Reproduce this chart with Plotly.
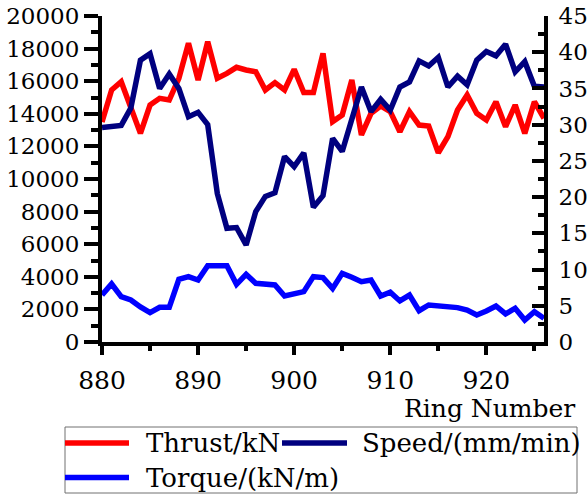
import plotly.graph_objects as go

rings = list(range(880, 927))

thrust = [13500, 15460, 15970, 14400, 12800, 14540, 14950, 14850, 16180, 18330,
          16070, 18420, 16180, 16480, 16850, 16690, 16580, 15460, 15910, 15460,
          16730, 15300, 15300, 17710, 13520, 13930, 16070, 12700, 14030, 14480,
          14130, 12900, 14130, 13310, 13250, 11610, 12600, 14230, 15150, 14030,
          13620, 14740, 13210, 14540, 12800, 14740, 13720]

speed = [29.6, 29.7, 29.9, 32.3, 38.9, 39.8, 35.0, 37.0, 35.0, 31.1,
         31.7, 30.0, 20.5, 15.7, 15.8, 13.4, 18.0, 20.1, 20.6, 25.6,
         24.2, 26.1, 18.6, 20.2, 28.1, 26.3, 30.9, 35.2, 31.8, 33.5,
         32.0, 35.2, 35.9, 38.8, 38.1, 39.3, 35.2, 36.7, 35.5, 38.9,
         40.1, 39.5, 41.1, 37.3, 38.7, 35.3, 35.2]

torque = [2880, 3560, 2780, 2580, 2150, 1800, 2130, 2130, 3850, 4010,
          3800, 4680, 4680, 4680, 3540, 4150, 3600, 3540, 3500, 2820,
          2940, 3090, 4010, 3950, 3290, 4210, 3970, 3700, 3800, 2820,
          3050, 2520, 2880, 1920, 2270, 2230, 2170, 2110, 1960, 1660,
          1900, 2210, 1720, 2070, 1350, 1860, 1450]

names = ["Thrust/kN", "Speed/(mm/min)", "Torque/(kN/m)"]
colors = ["#FF0000", "#00007F", "#0000FF"]
x_ticks = [880, 890, 900, 910, 920]
left_ticks = list(range(0, 20001, 2000))
right_ticks = list(range(0, 46, 5))

FONT = "DejaVu Serif"
LW = 5.5

# plot-area geometry (pixels) used to place the hand-made legend
L, R, T, B = 102, 544, 16, 342
def px(xp):
    return (xp - L) / (R - L)
def py(yp):
    return (B - yp) / (B - T)

fig = go.Figure()
fig.add_trace(go.Scatter(x=rings, y=thrust, name=names[0], mode="lines",
                         line=dict(color=colors[0], width=LW), showlegend=False))
fig.add_trace(go.Scatter(x=rings, y=torque, name=names[2], mode="lines",
                         line=dict(color=colors[2], width=LW), showlegend=False))
fig.add_trace(go.Scatter(x=rings, y=speed, name=names[1], mode="lines", yaxis="y2",
                         line=dict(color=colors[1], width=LW), showlegend=False))

axis_common = dict(showgrid=False, zeroline=False, showline=True, linecolor="black",
                   linewidth=4, tickcolor="black", tickwidth=3.5, tickformat="d",
                   tickfont=dict(family=FONT, size=23, color="black"))

# legend: box, samples, labels
shapes = [dict(type="rect", xref="paper", yref="paper",
               x0=px(65), x1=px(577), y0=py(427), y1=py(493),
               line=dict(color="#707070", width=1), fillcolor="white", layer="above")]
legend_items = [(65, 129, 443, 144), (282, 347, 443, 360), (65, 129, 477.5, 144)]
annotations = []
for (x0, x1, yy, tx), nm, c in zip(legend_items, names, colors):
    shapes.append(dict(type="line", xref="paper", yref="paper",
                       x0=px(x0), x1=px(x1), y0=py(yy), y1=py(yy),
                       line=dict(color=c, width=LW), layer="above"))
    annotations.append(dict(text=nm, xref="paper", yref="paper", x=px(tx), y=py(yy),
                            xanchor="left", yanchor="middle", showarrow=False,
                            font=dict(family=FONT, size=26, color="black")))
annotations.append(dict(text="Ring Number", xref="paper", yref="paper", x=px(577), y=py(408),
                        xanchor="right", yanchor="middle", showarrow=False,
                        font=dict(family=FONT, size=25, color="black")))

fig.update_layout(
    width=587, height=495,
    margin=dict(l=L, r=587 - R, t=T, b=495 - B, autoexpand=False),
    paper_bgcolor="white", plot_bgcolor="white",
    font=dict(family=FONT, color="black"),
    showlegend=False,
    xaxis=dict(range=[880, 926], tickvals=x_ticks, ticks="outside", ticklen=9,
               ticklabelstandoff=4,
               minor=dict(dtick=5, tick0=880, ticks="outside", ticklen=5, tickwidth=3.5, tickcolor="black"),
               **{**axis_common, "tickfont": dict(family=FONT, size=25, color="black")}),
    yaxis=dict(range=[0, 20000], tickvals=left_ticks, ticks="outside", ticklen=14,
               minor=dict(dtick=1000, tick0=0, ticks="outside", ticklen=7, tickwidth=3.5, tickcolor="black"),
               **axis_common),
    yaxis2=dict(range=[0, 45], tickvals=right_ticks, overlaying="y", side="right",
                ticks="inside", ticklen=12, ticklabelstandoff=6,
                minor=dict(dtick=2.5, tick0=0, ticks="inside", ticklen=6, tickwidth=3.5, tickcolor="black"),
                **axis_common),
    shapes=shapes,
    annotations=annotations,
)

fig.write_html("out.html")
